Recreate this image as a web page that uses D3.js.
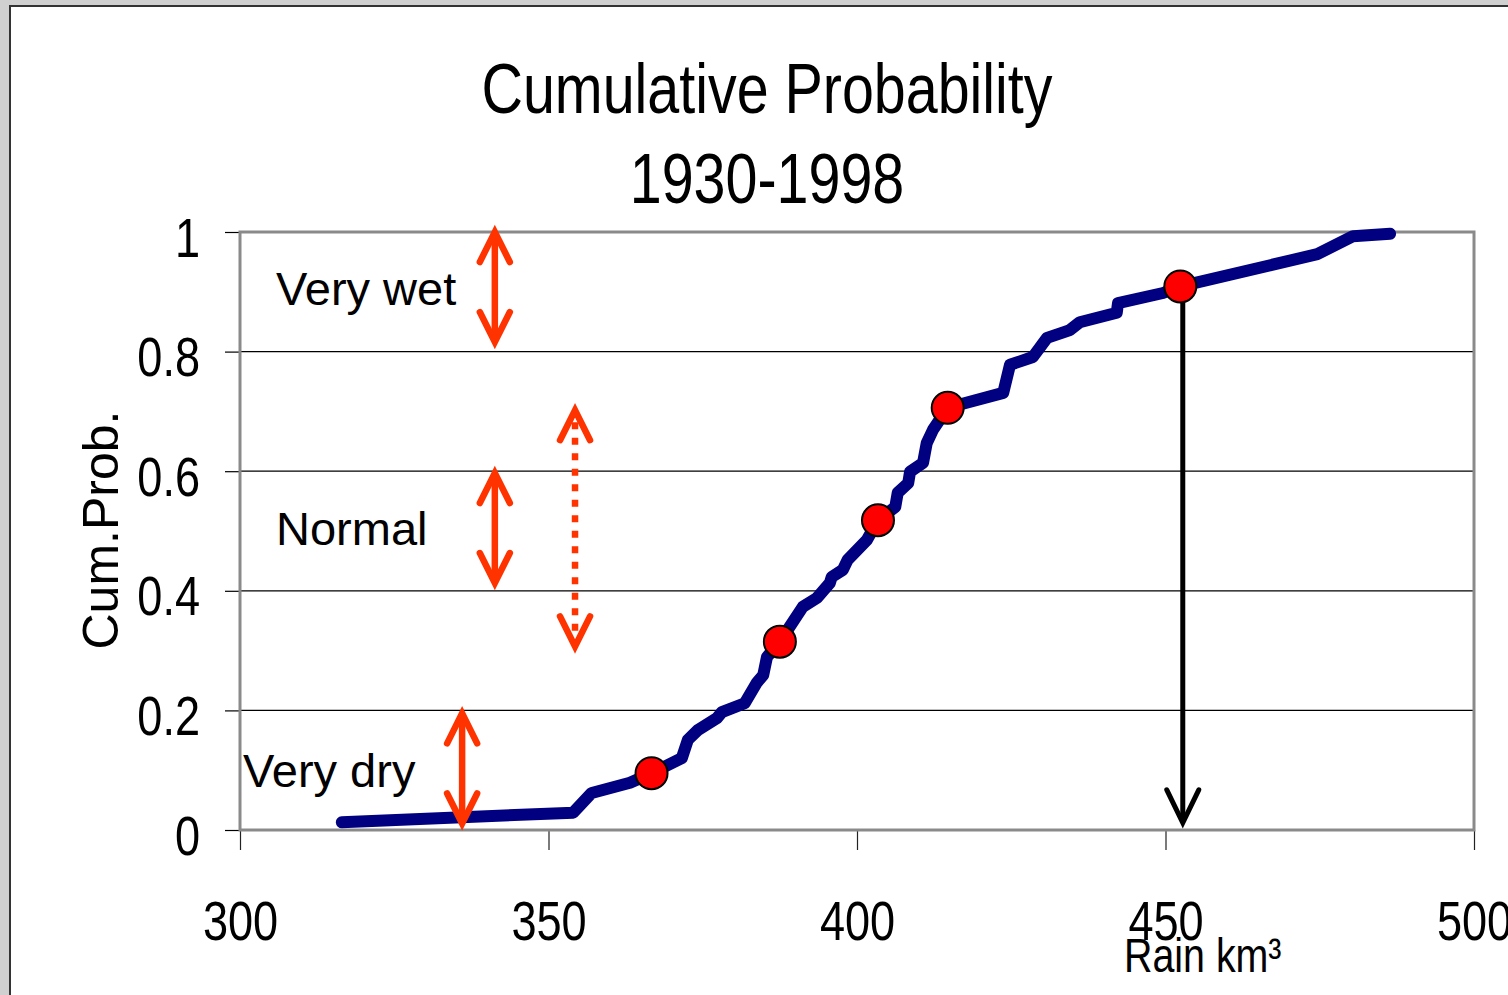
<!DOCTYPE html>
<html>
<head>
<meta charset="utf-8">
<script src="https://cdn.jsdelivr.net/npm/d3@7"></script>
<style>
  html, body { margin: 0; padding: 0; background: #d0d0d0; overflow: hidden; }
  svg { display: block; }
  .narrow, .plain { font-family: "Liberation Sans", Arial, sans-serif; }
</style>
</head>
<body>
<svg id="chart" width="1508" height="995"></svg>
<script>
// Empirical cumulative probability of annual rain volume, 1930-1998
const rainKm3 = [316.5, 354.0, 357.0, 363.2, 366.7, 371.6, 372.6, 374.2, 377.3, 378.1,
                 381.8, 383.8, 384.8, 385.4, 387.5, 391.2, 393.5, 395.6, 395.9, 397.7,
                 398.5, 401.6, 403.4, 406.2, 406.6, 408.3, 408.6, 410.7, 411.3, 412.3,
                 414.7, 423.7, 424.8, 428.5, 430.8, 434.5, 436.1, 442.1, 442.3, 449.6,
                 452.4, 474.6, 480.4, 486.4];
const cumProb = [0.013, 0.029, 0.062, 0.079, 0.095, 0.120, 0.151, 0.167, 0.187, 0.197,
                 0.212, 0.247, 0.259, 0.289, 0.315, 0.373, 0.388, 0.413, 0.423, 0.435,
                 0.452, 0.485, 0.518, 0.540, 0.564, 0.580, 0.599, 0.614, 0.647, 0.669,
                 0.706, 0.731, 0.778, 0.791, 0.823, 0.836, 0.849, 0.865, 0.881, 0.898,
                 0.909, 0.963, 0.993, 0.997];

// Highlighted years on the curve
const markerRain = [366.7, 387.5, 403.4, 414.7, 452.4];
const markerProb = [0.095, 0.315, 0.518, 0.706, 0.909];

// Axis ticks
const xTicks = [300, 350, 400, 450, 500];
const xTickLabels = ["300", "350", "400", "450", "500"];
const yTicks = [0, 0.2, 0.4, 0.6, 0.8, 1];
const yTickLabels = ["0", "0.2", "0.4", "0.6", "0.8", "1"];

// Probability bands shown as double-headed arrows
const bandRain = [341.3, 341.3, 354.3, 336.0];
const bandLow  = [0.816, 0.413, 0.307, 0.011];
const bandHigh = [1.000, 0.597, 0.702, 0.195];
const bandDotted = [false, false, true, false];

// Band names
const bandNames = ["Very wet", "Normal", "Very dry"];

// Reading the rain value back from the probability
const dropRain = 452.8;
const dropFrom = 0.909;
const dropTo = 0.012;

const titleLines = ["Cumulative Probability", "1930-1998"];
const yTitle = "Cum.Prob.";
const xTitle = "Rain km\u00B3";

// ---- layout ----
const svg = d3.select("#chart");
const plotL = 240, plotR = 1474, plotT = 232, plotB = 830;

const x = d3.scaleLinear().domain([300, 500]).range([plotL, plotR]);
const y = d3.scaleLinear().domain([0, 1]).range([plotB, plotT]);

// squeeze glyphs horizontally to get a narrow face
function condense(sel, k) {
  sel.each(function () {
    const w = this.getComputedTextLength();
    d3.select(this).attr("textLength", w * k).attr("lengthAdjust", "spacingAndGlyphs");
  });
}

// sheet
svg.append("rect")
  .attr("x", 10).attr("y", 6).attr("width", 1520).attr("height", 1010)
  .attr("fill", "#ffffff").attr("stroke", "#333333").attr("stroke-width", 2);

// title
svg.append("g").selectAll("text").data(titleLines).join("text")
  .attr("class", "narrow").attr("text-anchor", "middle")
  .attr("font-size", 70).attr("fill", "#000")
  .attr("x", 767).attr("y", (d, i) => 113 + i * 90).text(d => d)
  .call(condense, 0.82);

// horizontal gridlines
svg.append("g")
  .selectAll("line").data(yTicks.filter(v => v > 0 && v < 1)).join("line")
  .attr("x1", plotL).attr("x2", plotR)
  .attr("y1", d => y(d)).attr("y2", d => y(d))
  .attr("stroke", "#000").attr("stroke-width", 1.2);

// y axis
const yAxis = d3.axisLeft(y).tickValues(yTicks)
  .tickFormat((d, i) => yTickLabels[i]).tickSize(15).tickPadding(0);
const gy = svg.append("g").attr("transform", `translate(${plotL},0)`).call(yAxis);
gy.select(".domain").remove();
gy.attr("font-family", null);
gy.selectAll(".tick line").attr("stroke", "#000").attr("stroke-width", 1.2);
gy.selectAll(".tick text").attr("class", "narrow").attr("font-size", 55)
  .attr("fill", "#000").attr("x", -40).attr("dy", 24)
  .call(condense, 0.82);

// x axis
const xAxis = d3.axisBottom(x).tickValues(xTicks)
  .tickFormat((d, i) => xTickLabels[i]).tickSize(20).tickPadding(0);
const gx = svg.append("g").attr("transform", `translate(0,${plotB})`).call(xAxis);
gx.select(".domain").remove();
gx.attr("font-family", null);
gx.selectAll(".tick line").attr("stroke", "#222").attr("stroke-width", 1.2);
gx.selectAll(".tick text").attr("class", "narrow").attr("font-size", 55)
  .attr("fill", "#000").attr("y", 110).attr("dy", 0)
  .call(condense, 0.82);

// plot frame
svg.append("rect")
  .attr("x", plotL).attr("y", plotT).attr("width", plotR - plotL).attr("height", plotB - plotT)
  .attr("fill", "none").attr("stroke", "#8a8a8a").attr("stroke-width", 3);

// axis titles
svg.append("text").attr("class", "plain")
  .attr("transform", "translate(118,530) rotate(-90)")
  .attr("text-anchor", "middle").attr("font-size", 50).attr("fill", "#000")
  .text(yTitle);
svg.append("text").attr("class", "narrow")
  .attr("x", 1124).attr("y", 972).attr("font-size", 48).attr("fill", "#000")
  .text(xTitle)
  .call(condense, 0.82);

// curve
const line = d3.line().x(d => x(d[0])).y(d => y(d[1]));
svg.append("path")
  .datum(d3.zip(rainKm3, cumProb))
  .attr("d", line)
  .attr("fill", "none").attr("stroke", "#000080").attr("stroke-width", 12)
  .attr("stroke-linejoin", "round").attr("stroke-linecap", "round");

// band labels
const labelPos = [[276, 305], [276, 545], [243, 787]];
svg.append("g").selectAll("text").data(bandNames).join("text")
  .attr("class", "plain").attr("font-size", 47).attr("fill", "#000")
  .attr("x", (d, i) => labelPos[i][0]).attr("y", (d, i) => labelPos[i][1])
  .text(d => d);

// band arrows
const red = "#ff3300";
const headW = 15, headH = 30;
const bands = svg.append("g");
bandRain.forEach((r, i) => {
  const px = x(r), yt = y(bandHigh[i]), yb = y(bandLow[i]);
  const g = bands.append("g").attr("stroke", red).attr("fill", "none")
    .attr("stroke-width", 6.5).attr("stroke-linecap", "round").attr("stroke-linejoin", "miter");
  g.append("line")
    .attr("x1", px).attr("x2", px)
    .attr("y1", bandDotted[i] ? yt + 12 : yt + 3)
    .attr("y2", bandDotted[i] ? yb - 12 : yb - 3)
    .attr("stroke-linecap", bandDotted[i] ? "butt" : "round")
    .attr("stroke-dasharray", bandDotted[i] ? "7,8.5" : null);
  g.append("path").attr("d", `M${px - headW},${yt + headH}L${px},${yt}L${px + headW},${yt + headH}`);
  g.append("path").attr("d", `M${px - headW},${yb - headH}L${px},${yb}L${px + headW},${yb - headH}`);
});

// drop line from the highlighted point to the rain axis
const dropX = x(dropRain), dropY1 = y(dropFrom), dropY2 = y(dropTo);
const drop = svg.append("g").attr("stroke", "#000").attr("fill", "none")
  .attr("stroke-width", 5).attr("stroke-linecap", "round");
drop.append("line").attr("x1", dropX).attr("x2", dropX).attr("y1", dropY1).attr("y2", dropY2 - 2);
drop.append("path").attr("d", `M${dropX - 16},${dropY2 - 33}L${dropX},${dropY2}L${dropX + 16},${dropY2 - 33}`);

// markers
svg.append("g").selectAll("circle").data(d3.zip(markerRain, markerProb)).join("circle")
  .attr("cx", d => x(d[0])).attr("cy", d => y(d[1])).attr("r", 16)
  .attr("fill", "#ff0000").attr("stroke", "#000").attr("stroke-width", 2);
</script>
</body>
</html>
